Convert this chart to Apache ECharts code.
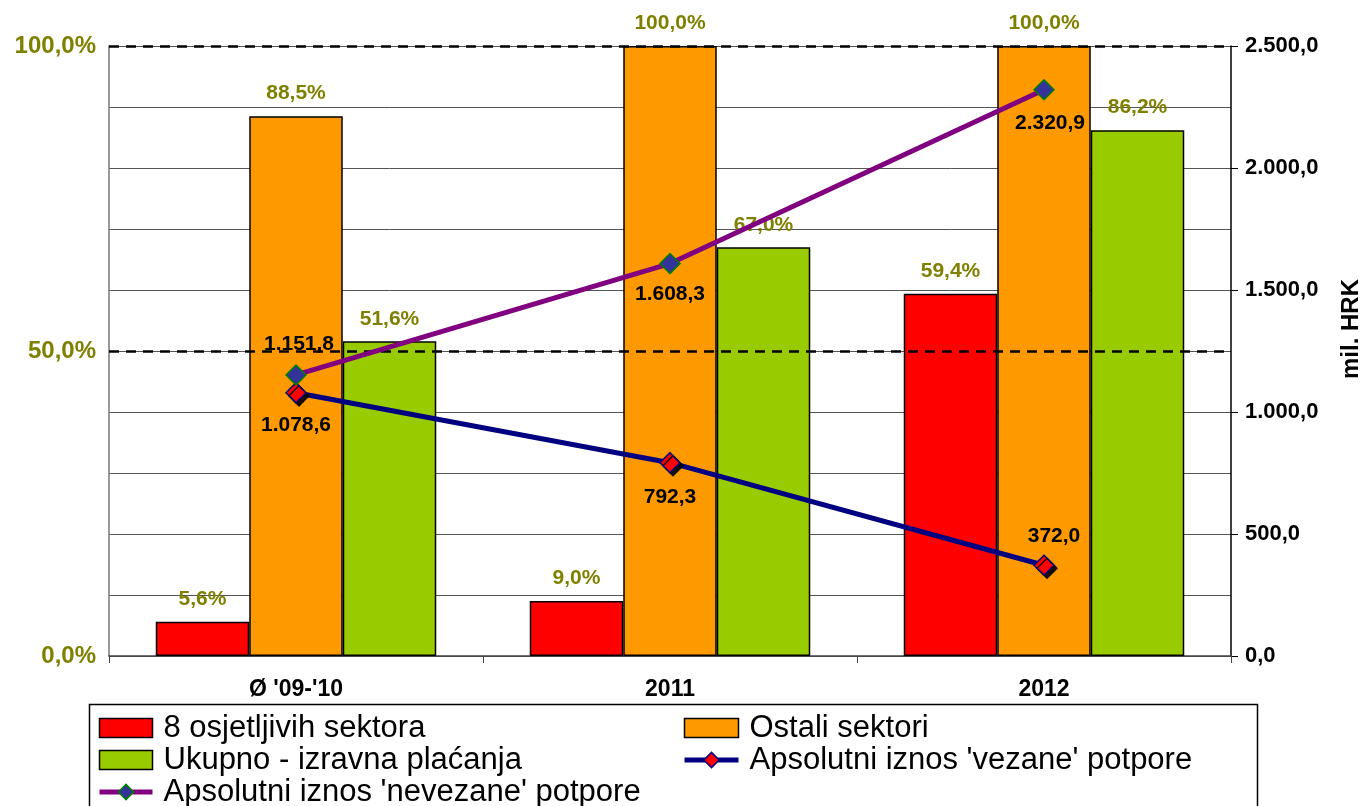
<!DOCTYPE html>
<html>
<head>
<meta charset="utf-8">
<script src="https://cdn.jsdelivr.net/npm/echarts@6/dist/echarts.min.js"></script>
<style>
  html, body { margin: 0; padding: 0; background: #fff; }
  #chart { width: 1367px; height: 806px; }
</style>
</head>
<body>
<div id="chart"></div>
<script>
  // podaci
  var categories = ["Ø '09-'10", '2011', '2012'];
  var osjetljivi = [5.6, 9.0, 59.4];
  var ostali = [88.5, 100.0, 100.0];
  var ukupno = [51.6, 67.0, 86.2];
  var vezane = [1078.6, 792.3, 372.0];
  var nevezane = [1151.8, 1608.3, 2320.9];

  // label placement for line points
  var vezanePos = [['bottom', [0, 1]], ['bottom', [0, 3]], ['top', [10, 2]]];
  var nevezanePos = [['top', [3, 0]], ['bottom', [0, -1]], ['bottom', [6, 2]]];

  var FONT = '"Liberation Sans", Arial, sans-serif';
  var OLIVE = '#808000';

  function fmtNum(v) {
    var parts = v.toFixed(1).split('.');
    parts[0] = parts[0].replace(/\B(?=(\d{3})+(?!\d))/g, '.');
    return parts[0] + ',' + parts[1];
  }

  function lineData(vals, pos) {
    return vals.map(function (v, i) {
      return { value: v, label: { position: pos[i][0], offset: pos[i][1] } };
    });
  }

  var barLabel = {
    show: true, position: 'top', distance: 12,
    color: OLIVE, fontWeight: 'bold', fontSize: 21, fontFamily: FONT,
    formatter: function (p) { return fmtNum(p.value) + '%'; }
  };
  var lineLabel = {
    show: true, distance: 10,
    color: '#000', fontWeight: 'bold', fontSize: 21, fontFamily: FONT,
    formatter: function (p) { return fmtNum(p.value); }
  };
  var legendText = {
    fontSize: 31, lineHeight: 32, fontFamily: FONT, color: '#000',
    padding: [0, 0, 0, 6]
  };

  // legend entries (icons styled like the original)
  function barItem(name) {
    return { name: name, icon: 'rect', itemStyle: { borderColor: '#000', borderWidth: 1.5 } };
  }
  function lineItem(name) {
    return { name: name, lineStyle: { width: 5 }, itemStyle: { borderWidth: 1.5 } };
  }

  var myChart = echarts.init(document.getElementById('chart'));
  myChart.setOption({
    animation: false,
    grid: { left: 109, right: 136, top: 46, bottom: 150, outerBoundsMode: 'none' },
    legend: [
      {
        orient: 'vertical', left: 97, top: 712, height: 120, padding: 0,
        itemWidth: 53, itemHeight: 19, itemGap: 0,
        textStyle: legendText,
        data: [barItem('8 osjetljivih sektora'), barItem('Ukupno - izravna plaćanja'),
          lineItem("Apsolutni iznos 'nevezane' potpore")]
      },
      {
        orient: 'vertical', left: 682, top: 712, height: 120, padding: 0,
        itemWidth: 54, itemHeight: 19, itemGap: 0,
        textStyle: legendText,
        data: [barItem('Ostali sektori'), lineItem("Apsolutni iznos 'vezane' potpore")]
      }
    ],
    graphic: [{
      type: 'rect', left: 87, top: 702,
      shape: { width: 1168, height: 110 },
      style: { fill: 'none', stroke: '#000', lineWidth: 1.5 }
    }],
    xAxis: {
      type: 'category',
      data: categories,
      axisLine: { lineStyle: { color: '#444', width: 1.5 } },
      axisTick: { show: true, alignWithLabel: false, length: 7, lineStyle: { color: '#444' } },
      axisLabel: { color: '#000', fontWeight: 'bold', fontSize: 23, fontFamily: FONT, margin: 22 }
    },
    yAxis: [
      {
        type: 'value', min: 0, max: 100, interval: 10,
        axisLine: { show: true, lineStyle: { color: '#777', width: 1.5 } },
        axisTick: { show: false },
        axisLabel: {
          color: OLIVE, fontWeight: 'bold', fontSize: 24, fontFamily: FONT, margin: 13,
          formatter: function (v) { return v % 50 === 0 ? fmtNum(v) + '%' : ''; }
        },
        splitLine: { show: true, lineStyle: { color: '#555', width: 1 } }
      },
      {
        type: 'value', min: 0, max: 2500, interval: 500,
        name: 'mil. HRK', nameLocation: 'middle', nameGap: 108, nameRotate: 90,
        nameTextStyle: { color: '#000', fontWeight: 'bold', fontSize: 24, fontFamily: FONT,
          padding: [0, 0, 0, 44] },
        axisLine: { show: true, lineStyle: { color: '#000', width: 1.5 } },
        axisTick: { show: true, length: 7, lineStyle: { color: '#000' } },
        axisLabel: {
          color: '#000', fontWeight: 'bold', fontSize: 22, fontFamily: FONT, margin: 14,
          formatter: function (v) { return fmtNum(v); }
        },
        splitLine: { show: false }
      }
    ],
    series: [
      {
        name: '8 osjetljivih sektora', type: 'bar', yAxisIndex: 0,
        barGap: '0%', barCategoryGap: '25%',
        itemStyle: { color: '#ff0000', borderColor: '#000', borderWidth: 1.5 },
        label: barLabel,
        data: osjetljivi,
        markLine: {
          silent: true, symbol: 'none', label: { show: false },
          lineStyle: { color: '#000', type: [10, 7], width: 2.5 },
          data: [{ yAxis: 50 }, { yAxis: 100 }]
        }
      },
      {
        name: 'Ostali sektori', type: 'bar', yAxisIndex: 0,
        barGap: '0%', barCategoryGap: '25%',
        itemStyle: { color: '#ff9900', borderColor: '#000', borderWidth: 1.5 },
        label: barLabel,
        data: ostali
      },
      {
        name: 'Ukupno - izravna plaćanja', type: 'bar', yAxisIndex: 0,
        barGap: '0%', barCategoryGap: '25%',
        itemStyle: { color: '#99cc00', borderColor: '#000', borderWidth: 1.5 },
        label: barLabel,
        data: ukupno
      },
      {
        name: "Apsolutni iznos 'vezane' potpore", type: 'line', yAxisIndex: 1,
        symbol: 'diamond', symbolSize: 20,
        lineStyle: { color: '#000080', width: 5 },
        itemStyle: { color: '#ff0000', borderColor: '#000080', borderWidth: 1.5,
          shadowColor: 'rgba(0,0,0,0.9)', shadowOffsetX: 3, shadowOffsetY: 3 },
        label: lineLabel,
        data: lineData(vezane, vezanePos),
        z: 5
      },
      {
        name: "Apsolutni iznos 'nevezane' potpore", type: 'line', yAxisIndex: 1,
        symbol: 'diamond', symbolSize: 20,
        lineStyle: { color: '#800080', width: 5 },
        itemStyle: { color: '#333399', borderColor: '#008000', borderWidth: 1.5 },
        label: lineLabel,
        data: lineData(nevezane, nevezanePos),
        z: 6
      }
    ]
  });
</script>
</body>
</html>
